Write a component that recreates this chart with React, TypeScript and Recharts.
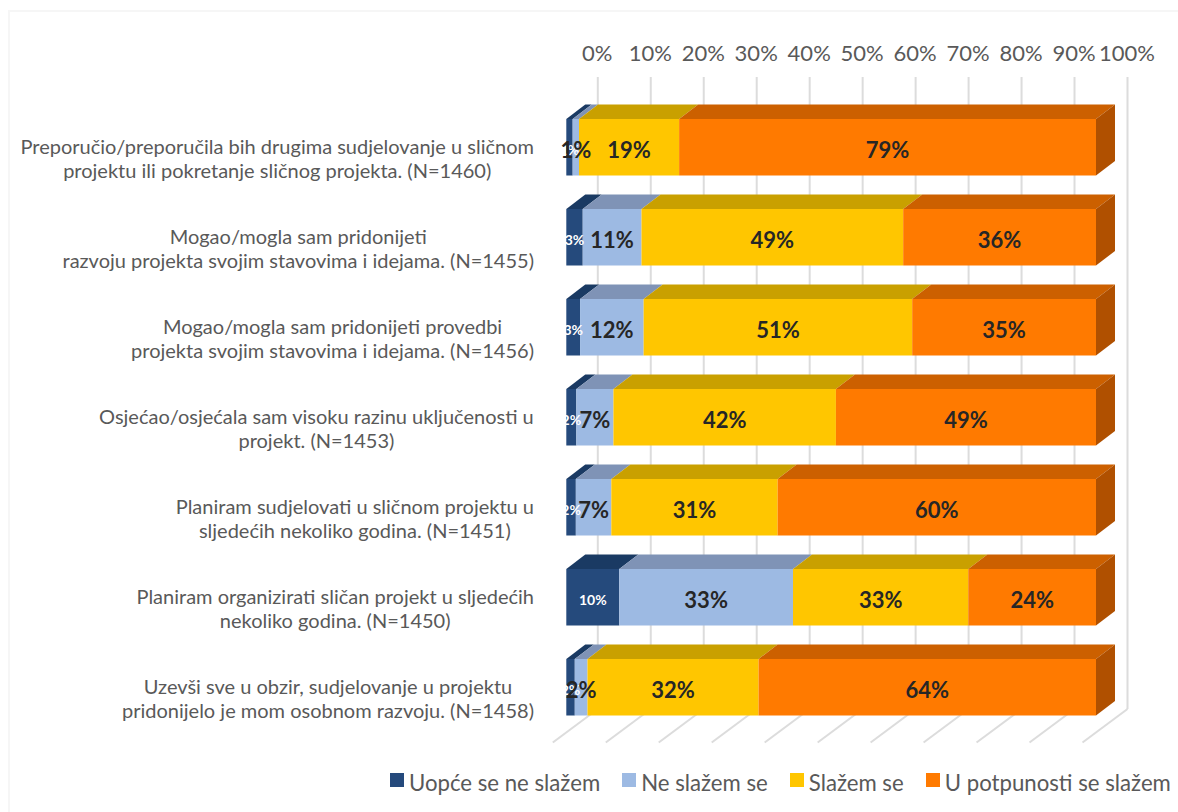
import { Bar, BarChart, CartesianGrid, LabelList, Legend, XAxis, YAxis } from 'recharts'

const FONT = 'Lato, Carlito, sans-serif'
const TEXT_COLOR = '#595959'
const GRID_COLOR = '#dcdcdc'
const LABEL_COLOR = '#262626'

// depth of the fake 3D extrusion
const BAR_DX = 19
const BAR_DY = 14.5
const WALL_DX = 31.5
const FLOOR_DROP = 33.5

const categories = [
  'Preporučio/preporučila bih drugima sudjelovanje u sličnom\nprojektu ili pokretanje sličnog projekta. (N=1460)',
  'Mogao/mogla sam pridonijeti\nrazvoju projekta svojim stavovima i idejama. (N=1455)',
  'Mogao/mogla sam pridonijeti provedbi\nprojekta svojim stavovima i idejama. (N=1456)',
  'Osjećao/osjećala sam visoku razinu uključenosti u\nprojekt. (N=1453)',
  'Planiram sudjelovati u sličnom projektu u\nsljedećih nekoliko godina. (N=1451)',
  'Planiram organizirati sličan projekt u sljedećih\nnekoliko godina. (N=1450)',
  'Uzevši sve u obzir, sudjelovanje u projektu\npridonijelo je mom osobnom razvoju. (N=1458)',
]

const stronglyDisagree = [1.2, 3.1, 2.6, 1.9, 1.8, 10.0, 1.6]
const disagree = [1.2, 11.1, 12.0, 7.0, 6.7, 32.8, 2.4]
const agree = [18.9, 49.4, 50.7, 42.0, 31.4, 33.1, 32.3]
const stronglyAgree = [78.7, 36.4, 34.7, 49.1, 60.1, 24.1, 63.7]

const xTicks = [0, 10, 20, 30, 40, 50, 60, 70, 80, 90, 100]

const rows = categories.map((name, i) => ({
  name,
  stronglyDisagree: stronglyDisagree[i],
  disagree: disagree[i],
  agree: agree[i],
  stronglyAgree: stronglyAgree[i],
}))

const formatPct = (value: number) => `${Math.round(value)}%`

function Box3D({ x, y, width, height, fill, topFill, sideFill }: any) {
  const top = `${x},${y} ${x + width},${y} ${x + width + BAR_DX},${y - BAR_DY} ${x + BAR_DX},${y - BAR_DY}`
  const side = `${x + width},${y} ${x + width + BAR_DX},${y - BAR_DY} ${x + width + BAR_DX},${y + height - BAR_DY} ${x + width},${y + height}`
  return (
    <g>
      <polygon points={top} fill={topFill} />
      {sideFill ? <polygon points={side} fill={sideFill} /> : null}
      <rect x={x} y={y} width={width} height={height} fill={fill} />
    </g>
  )
}

function WallLine({ x1, y1, y2 }: any) {
  const wallX = x1 + WALL_DX
  const wallBottom = y2 - 23
  return (
    <g stroke={GRID_COLOR} strokeWidth={2} fill="none">
      <line x1={wallX} y1={y1 - 25} x2={wallX} y2={wallBottom} />
      <line x1={wallX} y1={wallBottom} x2={wallX - 45} y2={wallBottom + FLOOR_DROP} />
    </g>
  )
}

function PercentTick({ x, payload }: any) {
  return (
    <text x={x + WALL_DX - 0.5} y={61} textAnchor="middle" fontFamily={FONT} fontSize={22} fill={TEXT_COLOR}>
      {payload.value}%
    </text>
  )
}

let measureCtx: CanvasRenderingContext2D | null = null
const CATEGORY_FONT_SIZE = 20

function lineWidth(text: string) {
  if (!measureCtx) measureCtx = document.createElement('canvas').getContext('2d')
  measureCtx!.font = `${CATEGORY_FONT_SIZE}px Lato`
  return measureCtx!.measureText(text).width
}

// lines are centred on each other, the block itself is right aligned
function CategoryTick({ y, payload }: any) {
  const lines = String(payload.value).split('\n')
  const blockWidth = Math.max(...lines.map(lineWidth))
  const cx = 534 - blockWidth / 2
  return (
    <text textAnchor="middle" fontFamily={FONT} fontSize={CATEGORY_FONT_SIZE} fill={TEXT_COLOR}>
      {lines.map((line, i) => (
        <tspan key={i} x={cx} y={y + 7 + i * 24}>
          {line}
        </tspan>
      ))}
    </text>
  )
}

function LegendRow({ payload }: any) {
  return (
    <div style={{ position: 'relative', height: 30, fontFamily: FONT, fontSize: 22.2, color: TEXT_COLOR, whiteSpace: 'nowrap' }}>
      {(payload ?? []).map((item: any) => (
        <span key={item.value} style={{ display: 'inline-flex', alignItems: 'center', marginRight: 22 }}>
          <span style={{ width: 14, height: 14, background: item.color, marginRight: 5, position: 'relative', top: -2 }} />
          {item.value}
        </span>
      ))}
    </div>
  )
}

const bigLabel = { fontFamily: FONT, fontSize: 22, fontWeight: 700, fill: LABEL_COLOR }
const smallLabel = { fontFamily: FONT, fontSize: 14, fontWeight: 700, fill: '#ffffff' }

export default function App() {
  return (
    <div style={{ position: 'absolute', left: 0, top: 0, width: 1178, height: 812, overflow: 'hidden', background: '#fff' }}>
      <div
        style={{
          position: 'absolute',
          left: 8,
          top: 10,
          width: 1300,
          height: 900,
          border: '2px solid #f6f6f6',
        }}
      />
      <BarChart
        width={1178}
        height={812}
        layout="vertical"
        data={rows}
        barSize={56.5}
        margin={{ top: 30, right: 82, bottom: 50, left: 0 }}
        style={{ position: 'absolute', left: 0, top: 0 }}
      >
        <CartesianGrid horizontal={false} vertical={(props: any) => <WallLine key={props.key} {...props} />} />
        <XAxis
          type="number"
          orientation="top"
          domain={[0, 100]}
          ticks={xTicks}
          height={72}
          axisLine={false}
          tickLine={false}
          tick={<PercentTick />}
          interval={0}
        />
        <YAxis
          type="category"
          dataKey="name"
          width={566.3}
          axisLine={false}
          tickLine={false}
          tick={<CategoryTick />}
          interval={0}
        />
        <Legend
          verticalAlign="bottom"
          itemSorter={null}
          content={<LegendRow />}
          wrapperStyle={{ left: 390, top: 767, bottom: 'auto', width: 800, height: 30 }}
        />
        <Bar
          dataKey="stronglyDisagree"
          name="Uopće se ne slažem"
          stackId="a"
          fill="#254a7c"
          isAnimationActive={false}
          shape={(p: any) => <Box3D {...p} topFill="#1a3a63" />}
        >
          <LabelList dataKey="stronglyDisagree" position="center" dy={3} formatter={formatPct} style={smallLabel} />
        </Bar>
        <Bar
          dataKey="disagree"
          name="Ne slažem se"
          stackId="a"
          fill="#9dbae3"
          isAnimationActive={false}
          shape={(p: any) => <Box3D {...p} topFill="#7f93b6" />}
        >
          <LabelList dataKey="disagree" position="center" dy={3} formatter={formatPct} style={bigLabel} />
        </Bar>
        <Bar
          dataKey="agree"
          name="Slažem se"
          stackId="a"
          fill="#ffc600"
          isAnimationActive={false}
          shape={(p: any) => <Box3D {...p} topFill="#c9a000" />}
        >
          <LabelList dataKey="agree" position="center" dy={3} formatter={formatPct} style={bigLabel} />
        </Bar>
        <Bar
          dataKey="stronglyAgree"
          name="U potpunosti se slažem"
          stackId="a"
          fill="#ff7a00"
          isAnimationActive={false}
          shape={(p: any) => <Box3D {...p} topFill="#cc6000" sideFill="#b05000" />}
        >
          <LabelList dataKey="stronglyAgree" position="center" dy={3} formatter={formatPct} style={bigLabel} />
        </Bar>
      </BarChart>
    </div>
  )
}
